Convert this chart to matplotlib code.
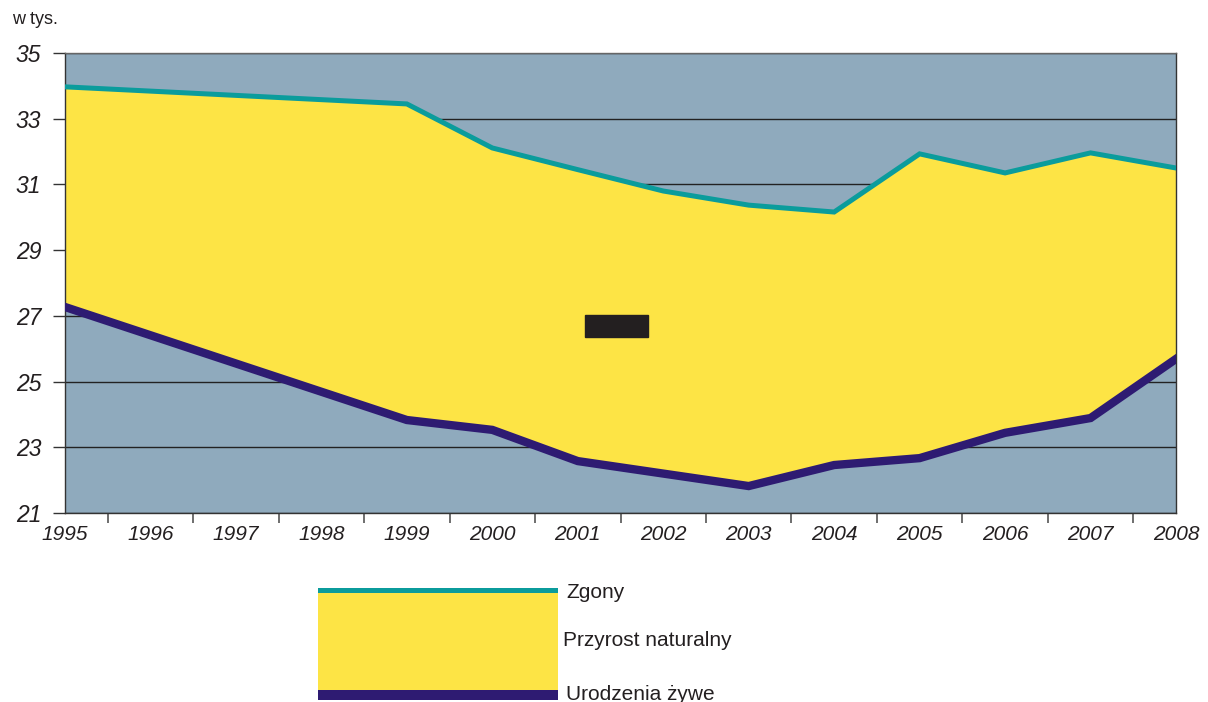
import matplotlib
matplotlib.use("Agg")
import matplotlib.pyplot as plt
import matplotlib.patches as mpatches
import numpy as np

# --- data (w tys.) ---
years = [1995, 1999, 2000, 2001, 2002, 2003, 2004, 2005, 2006, 2007, 2008]
zgony = [33.97, 33.45, 32.11, 31.45, 30.80, 30.37, 30.16, 31.93, 31.35, 31.96, 31.50]
urodzenia = [27.27, 23.83, 23.53, 22.58, 22.20, 21.82, 22.46, 22.67, 23.44, 23.89, 25.69]
year_labels = [str(y) for y in range(1995, 2009)]
y_ticks = [21, 23, 25, 27, 29, 31, 33, 35]

# --- colours ---
BG = "#8FAABD"
YELLOW = "#FDE445"
TEAL = "#0B9C9C"
PURPLE = "#2E1B72"
DARK = "#231F20"

plt.rcParams["font.family"] = ["Liberation Sans", "DejaVu Sans"]

fig = plt.figure(figsize=(12.08, 7.02), dpi=100)
ax = fig.add_axes([65 / 1208, 189 / 702, 1111 / 1208, 460 / 702])
ax.set_facecolor(BG)

ax.fill_between(years, urodzenia, zgony, color=YELLOW, zorder=2, linewidth=0)
ax.plot(years, zgony, color=TEAL, lw=3.6, zorder=3, solid_joinstyle="miter")
ax.plot(years, urodzenia, color=PURPLE, lw=6, zorder=3, solid_joinstyle="miter")

# dark bar in the middle of the natural-growth area
ax.add_patch(mpatches.Rectangle((0.468, 0.383), 0.057, 0.047,
                                transform=ax.transAxes, color=DARK, zorder=4))

ax.set_xlim(1995, 2008)
ax.set_ylim(21, 35)
ax.set_yticks(y_ticks)
ax.set_yticklabels([str(t) for t in y_ticks], fontsize=16.5, style="italic", color=DARK)
ax.yaxis.grid(True, color="#222222", lw=1)
ax.set_axisbelow(True)

ax.set_xticks(range(1995, 2009))
ax.set_xticklabels(year_labels, fontsize=15, style="italic", color=DARK)
ax.tick_params(axis="x", length=0, pad=9)
ax.set_xticks(np.arange(1995.5, 2008, 1.0), minor=True)
ax.tick_params(axis="x", which="minor", length=7, width=1.2, color="#555555", direction="out")
ax.tick_params(axis="y", length=9, width=1, color="#333333", direction="out", pad=8)

for s in ax.spines.values():
    s.set_color("#333333")
    s.set_linewidth(1)
ax.spines["top"].set_color("#666666")

fig.text(12 / 1208, 1 - 20 / 702, "w tys.", fontsize=13, color=DARK, va="center")

# --- legend drawn by hand below the plot ---
def fig_rect(x0, y0, x1, y1, color):
    fig.add_artist(mpatches.Rectangle((x0 / 1208, 1 - y1 / 702),
                                      (x1 - x0) / 1208, (y1 - y0) / 702,
                                      transform=fig.transFigure, color=color, lw=0))

fig_rect(318, 593, 558, 690, YELLOW)
fig_rect(318, 588, 558, 593, TEAL)
fig_rect(318, 690, 558, 700, PURPLE)

fig.text(566 / 1208, 1 - 593 / 702, "Zgony", fontsize=15, color=DARK, va="center")
fig.text(563 / 1208, 1 - 641 / 702, "Przyrost naturalny", fontsize=15, color=DARK, va="center")
fig.text(566 / 1208, 1 - 694 / 702, "Urodzenia żywe", fontsize=15, color=DARK, va="center")

fig.savefig("out.png", dpi=100)
